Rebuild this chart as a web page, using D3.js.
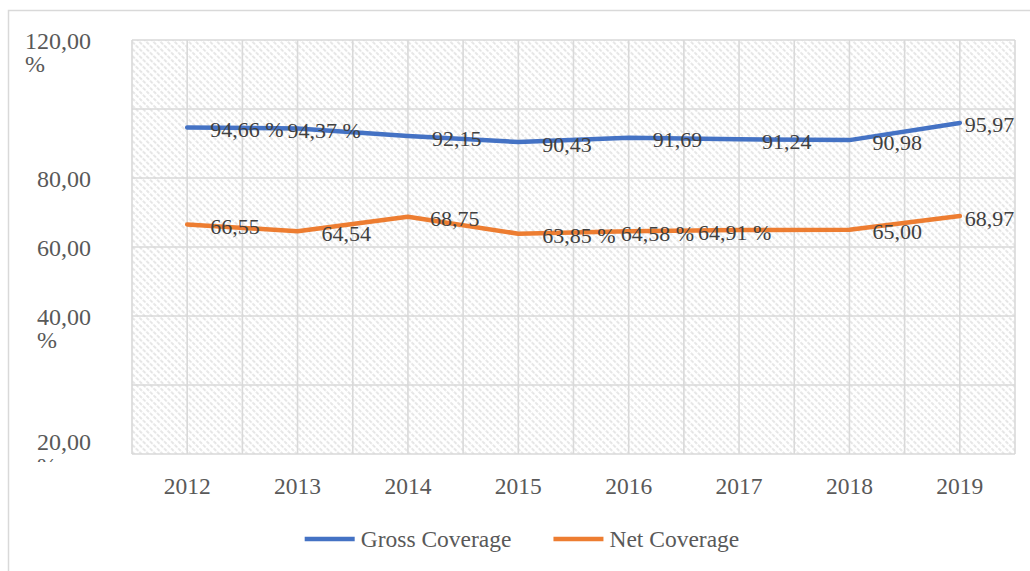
<!DOCTYPE html>
<html>
<head>
<meta charset="utf-8">
<script src="https://cdn.jsdelivr.net/npm/d3@7"></script>
<style>
  body { margin: 0; background: #fff; }
  svg { display: block; }
  text { font-family: "Liberation Serif", "Times New Roman", serif; }
</style>
</head>
<body>
<svg id="chart" width="1030" height="571"></svg>
<script>
// ---- data ----
const years = ["2012", "2013", "2014", "2015", "2016", "2017", "2018", "2019"];
const grossCoverage = [94.66, 94.37, 92.15, 90.43, 91.69, 91.24, 90.98, 95.97];
const netCoverage = [66.55, 64.54, 68.75, 63.85, 64.58, 64.91, 65.00, 68.97];
const grossLabels = ["94,66 %", "94,37 %", "92,15", "90,43", "91,69", "91,24", "90,98", "95,97"];
const netLabels = ["66,55", "64,54", "68,75", "63,85 %", "64,58 %", "64,91 %", "65,00", "68,97"];
const gridValues = [0, 20, 40, 60, 80, 100, 120];
const yTickValues = [120, 80, 60, 40, 3.5];
const yTickLabels = [["120,00", "%"], ["80,00"], ["60,00"], ["40,00", "%"], ["20,00", "%"]];
const seriesNames = ["Gross Coverage", "Net Coverage"];

// ---- layout ----
const colors = ["#4472C4", "#ED7D31"];
const grossLabelDx = [23, -10, 24, 24, 24, 23, 23, 5];
const netLabelDx = [23, 24, 22, 24, -8, -41, 23, 5];
const plot = { left: 132, right: 1015, top: 40, bottom: 454 };
const axisFont = 23.5;
const yFont = 24;
const labelFont = 22;

const svg = d3.select("#chart");
const defs = svg.append("defs");

// dotted diagonal hatch used as plot background
const pat = defs.append("pattern")
  .attr("id", "hatch")
  .attr("patternUnits", "userSpaceOnUse")
  .attr("width", 5).attr("height", 5)
  .attr("patternTransform", "rotate(45)");
pat.append("rect").attr("width", 5).attr("height", 5).attr("fill", "#ffffff");
pat.append("line")
  .attr("x1", 0).attr("y1", 1).attr("x2", 5).attr("y2", 1)
  .attr("stroke", "#dadada").attr("stroke-width", 1.4)
  .attr("stroke-dasharray", "1.6,1.6");

defs.append("clipPath").attr("id", "ylabClip")
  .append("rect").attr("x", 0).attr("y", 0).attr("width", 130).attr("height", 462);

// outer frame
svg.append("rect")
  .attr("x", 8.5).attr("y", 10.5)
  .attr("width", 1040).attr("height", 600)
  .attr("fill", "#fff")
  .attr("stroke", "#d9d9d9").attr("stroke-width", 1.5);

const x = d3.scaleBand().domain(years).range([plot.left, plot.right]).padding(0);
const cx = d => x(d) + x.bandwidth() / 2;
const y = d3.scaleLinear().domain([0, 120]).range([plot.bottom, plot.top]);

// background
svg.append("rect")
  .attr("x", plot.left).attr("y", plot.top)
  .attr("width", plot.right - plot.left).attr("height", plot.bottom - plot.top)
  .attr("fill", "url(#hatch)");

// gridlines
const grid = svg.append("g").attr("stroke", "#d9d9d9").attr("stroke-width", 1.6);
grid.selectAll("line.h").data(gridValues).join("line")
  .attr("class", "h")
  .attr("x1", plot.left).attr("x2", plot.right)
  .attr("y1", d => y(d)).attr("y2", d => y(d));
const vPos = [];
years.forEach(yr => { vPos.push(x(yr)); vPos.push(cx(yr)); });
vPos.push(plot.right);
grid.selectAll("line.v").data(vPos).join("line")
  .attr("class", "v")
  .attr("x1", d => d).attr("x2", d => d)
  .attr("y1", plot.top).attr("y2", plot.bottom);

// y-axis labels (wrapped text blocks, right aligned)
const yl = svg.append("g").attr("clip-path", "url(#ylabClip)");
yTickValues.forEach((v, i) => {
  const t = yl.append("text")
    .attr("font-size", yFont).attr("fill", "#595959");
  yTickLabels[i].forEach((line, j) => {
    t.append("tspan").attr("y", y(v) + 8.5 + j * 23.5).text(line);
  });
  const w = t.select("tspan").node().getComputedTextLength();
  t.selectAll("tspan").attr("x", 91 - w);
});

// x-axis labels
svg.append("g").selectAll("text").data(years).join("text")
  .attr("x", d => cx(d)).attr("y", 494)
  .attr("text-anchor", "middle")
  .attr("font-size", axisFont).attr("fill", "#595959")
  .text(d => d);

// lines
const line = d3.line().x((d, i) => cx(years[i])).y(d => y(d));
[grossCoverage, netCoverage].forEach((vals, k) => {
  svg.append("path")
    .datum(vals)
    .attr("d", line)
    .attr("fill", "none")
    .attr("stroke", colors[k])
    .attr("stroke-width", 4.5)
    .attr("stroke-linejoin", "round")
    .attr("stroke-linecap", "round");
});

// data labels
const labelSets = [
  { vals: grossCoverage, labels: grossLabels, dx: grossLabelDx },
  { vals: netCoverage, labels: netLabels, dx: netLabelDx }
];
labelSets.forEach(s => {
  svg.append("g").selectAll("text").data(s.vals).join("text")
    .attr("x", (d, i) => cx(years[i]) + s.dx[i])
    .attr("y", d => y(d) + 9.5)
    .attr("font-size", labelFont).attr("fill", "#404040")
    .text((d, i) => s.labels[i]);
});

// legend
const legend = svg.append("g");
let lx = 0;
seriesNames.forEach((name, k) => {
  const g = legend.append("g").attr("transform", `translate(${lx},0)`);
  g.append("line").attr("x1", 0).attr("x2", 50).attr("y1", 0).attr("y2", 0)
    .attr("stroke", colors[k]).attr("stroke-width", 4.5);
  const t = g.append("text").attr("x", 56).attr("y", 8)
    .attr("font-size", axisFont).attr("fill", "#595959").text(name);
  lx += 56 + t.node().getComputedTextLength() + 42;
});
const lw = lx - 42;
legend.attr("transform", `translate(${522 - lw / 2},539)`);
</script>
</body>
</html>
